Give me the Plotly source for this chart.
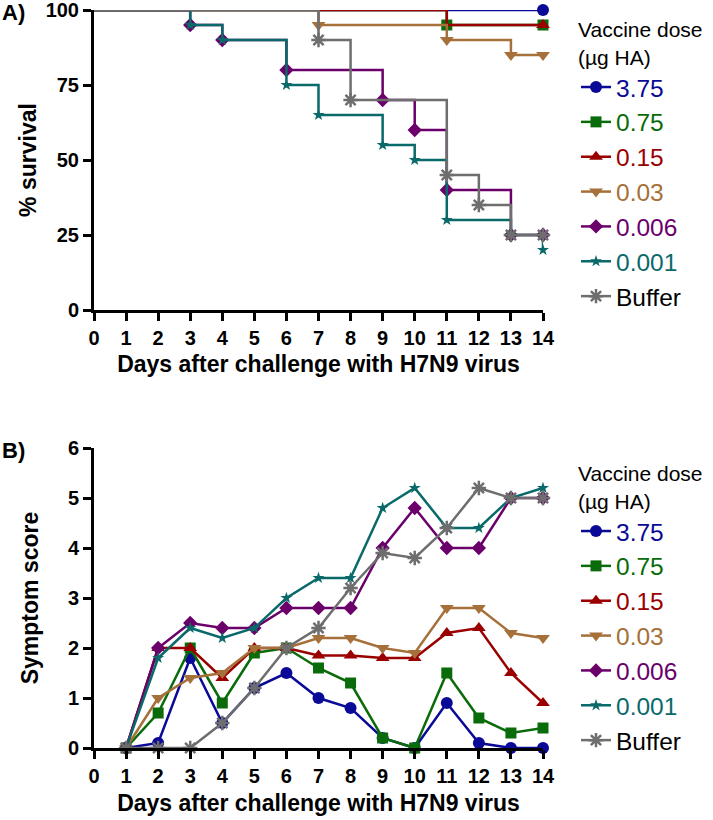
import plotly.graph_objects as go

# ---------------- data ----------------
day_ticks = list(range(0, 15))
names = ["3.75", "0.75", "0.15", "0.03", "0.006", "0.001", "Buffer"]
colors = ["#0A0A96", "#0A6B0A", "#9A0000", "#A57039", "#6B006B", "#0A6A6A", "#6E6E6E"]
symbols = ["circle", "square", "triangle-up", "triangle-down", "diamond", "star", "asterisk-open"]
msizes = [12, 11, 12, 12, 11, 9, 12]

# Panel A: Kaplan-Meier steps (day of change, % survival after change)
surv_days_375 = [0, 14]
surv_375 = [100, 100]
surv_days_075 = [0, 11, 14]
surv_075 = [100, 95, 95]
surv_days_015 = [0, 11, 14]
surv_015 = [100, 95, 95]
surv_days_003 = [0, 7, 11, 13, 14]
surv_003 = [100, 95, 90, 85, 85]
surv_days_0006 = [0, 3, 4, 6, 9, 10, 11, 13, 14]
surv_0006 = [100, 95, 90, 80, 70, 60, 40, 25, 25]
surv_days_0001 = [0, 3, 4, 6, 7, 9, 10, 11, 13, 14]
surv_0001 = [100, 95, 90, 75, 65, 55, 50, 30, 25, 20]
surv_days_buf = [0, 7, 8, 11, 12, 13, 14]
surv_buf = [100, 90, 70, 45, 35, 25, 25]

# days at which a symbol is shown on the survival curves
mark_days_375 = [14]
mark_days_075 = [11, 14]
mark_days_015 = [14]
mark_days_003 = [7, 11, 13, 14]
mark_days_0006 = [3, 4, 6, 9, 10, 11, 13, 14]
mark_days_0001 = [3, 4, 6, 7, 9, 10, 11, 13, 14]
mark_days_buf = [7, 8, 11, 12, 13, 14]

# Panel B: symptom score, days 1..14
score_days = list(range(1, 15))
score_375 = [0, 0.1, 1.8, 0.5, 1.2, 1.5, 1.0, 0.8, 0.2, 0, 0.9, 0.1, 0, 0]
score_075 = [0, 0.7, 2.0, 0.9, 1.9, 2.0, 1.6, 1.3, 0.2, 0, 1.5, 0.6, 0.3, 0.4]
score_015 = [0, 2.0, 2.0, 1.4, 2.0, 2.0, 1.85, 1.85, 1.8, 1.8, 2.3, 2.4, 1.5, 0.9]
score_003 = [0, 1.0, 1.4, 1.5, 2.0, 2.0, 2.2, 2.2, 2.0, 1.9, 2.8, 2.8, 2.3, 2.2]
score_0006 = [0, 2.0, 2.5, 2.4, 2.4, 2.8, 2.8, 2.8, 4.0, 4.8, 4.0, 4.0, 5.0, 5.0]
score_0001 = [0, 1.8, 2.4, 2.2, 2.4, 3.0, 3.4, 3.4, 4.8, 5.2, 4.4, 4.4, 5.0, 5.2]
score_buf = [0, 0, 0, 0.5, 1.2, 2.0, 2.4, 3.2, 3.9, 3.8, 4.4, 5.2, 5.0, 5.0]

surv_days_all = [surv_days_375, surv_days_075, surv_days_015, surv_days_003,
                 surv_days_0006, surv_days_0001, surv_days_buf]
surv_all = [surv_375, surv_075, surv_015, surv_003, surv_0006, surv_0001, surv_buf]
mark_all = [mark_days_375, mark_days_075, mark_days_015, mark_days_003,
            mark_days_0006, mark_days_0001, mark_days_buf]
score_all = [score_375, score_075, score_015, score_003, score_0006, score_0001, score_buf]

FONT = "Liberation Sans, Arial, sans-serif"


def step_value(dlist, vlist, d):
    v = vlist[0]
    for dd, vv in zip(dlist, vlist):
        if dd <= d:
            v = vv
    return v


def marker_style(i):
    if symbols[i] == "asterisk-open":
        return dict(symbol=symbols[i], size=msizes[i], color=colors[i],
                    line=dict(color=colors[i], width=2.5))
    return dict(symbol=symbols[i], size=msizes[i], color=colors[i],
                line=dict(color=colors[i], width=0))


def legend_name(i):
    c = colors[i] if names[i] != "Buffer" else "#000000"
    return "<span style='color:%s'>%s</span>" % (c, names[i])


fig = go.Figure()

# ---- Panel A ----
for i, nm in enumerate(names):
    fig.add_trace(go.Scatter(
        x=surv_days_all[i], y=surv_all[i], mode="lines",
        line=dict(color=colors[i], width=2.5, shape="hv"),
        showlegend=False, hoverinfo="skip", xaxis="x", yaxis="y", cliponaxis=False))
    my = [step_value(surv_days_all[i], surv_all[i], d) for d in mark_all[i]]
    fig.add_trace(go.Scatter(
        x=mark_all[i], y=my, mode="markers", marker=marker_style(i),
        showlegend=False, xaxis="x", yaxis="y", cliponaxis=False))
# legend entries for panel A
for i, nm in enumerate(names):
    fig.add_trace(go.Scatter(
        x=[None], y=[None], mode="lines+markers", name=legend_name(i),
        line=dict(color=colors[i], width=2.5), marker=marker_style(i),
        legend="legend", xaxis="x", yaxis="y"))

# ---- Panel B ----
for i, nm in enumerate(names):
    fig.add_trace(go.Scatter(
        x=score_days, y=score_all[i], mode="lines+markers", name=legend_name(i),
        line=dict(color=colors[i], width=2.5), marker=marker_style(i),
        legend="legend2", xaxis="x2", yaxis="y2", cliponaxis=False))

axis_common = dict(
    showgrid=False, zeroline=False, showline=True, linecolor="black", linewidth=3,
    ticks="outside", ticklen=8, tickwidth=2.5, tickcolor="black", automargin=False,
    ticklabeloverflow="allow",
    tickfont=dict(family=FONT, size=20, color="black", weight="bold"),
)
title_font = dict(family=FONT, size=23, color="black", weight="bold")

top_dom = [(748 - 310) / 738, 1.0]
bot_dom = [0.0, (748 - 448) / 738]

legend_common = dict(
    x=(576 - 94) / 449, xanchor="left", xref="paper", yref="paper", yanchor="top",
    bgcolor="rgba(0,0,0,0)", font=dict(family=FONT, size=24.5, color="black"),
    title=dict(text="Vaccine dose<br>(µg HA)", font=dict(family=FONT, size=21, color="black")),
    tracegroupgap=0, itemwidth=30, traceorder="normal",
)

fig.update_layout(
    width=713, height=820,
    margin=dict(l=94, r=170, t=10, b=72, autoexpand=False),
    paper_bgcolor="white", plot_bgcolor="white",
    font=dict(family=FONT, color="black"),
    xaxis=dict(axis_common, domain=[0, 1], anchor="y", range=[0, 14],
               tickvals=day_ticks, ticktext=[str(d) for d in day_ticks],
               title=dict(text="Days after challenge with H7N9 virus", standoff=8, font=title_font)),
    yaxis=dict(axis_common, domain=top_dom, anchor="x", range=[0, 100],
               tickvals=[0, 25, 50, 75, 100],
               title=dict(text="% survival", standoff=3, font=title_font)),
    xaxis2=dict(axis_common, domain=[0, 1], anchor="y2", range=[0, 14],
                tickvals=day_ticks, ticktext=[str(d) for d in day_ticks],
                title=dict(text="Days after challenge with H7N9 virus", standoff=9, font=title_font)),
    yaxis2=dict(axis_common, domain=bot_dom, anchor="x2", range=[0, 6],
                tickvals=[0, 1, 2, 3, 4, 5, 6],
                title=dict(text="Symptom score", standoff=23, font=title_font)),
    legend=dict(legend_common, y=(748 - 10) / 738),
    legend2=dict(legend_common, y=(748 - 454) / 738),
    annotations=[
        dict(text="<b>A)</b>", x=-94 / 449, y=(748 - 12) / 738, xref="paper", yref="paper",
             xanchor="left", yanchor="middle", showarrow=False,
             font=dict(family=FONT, size=22, color="black")),
        dict(text="<b>B)</b>", x=-94 / 449, y=(748 - 450) / 738, xref="paper", yref="paper",
             xanchor="left", yanchor="middle", showarrow=False,
             font=dict(family=FONT, size=22, color="black")),
    ],
)

fig.write_html("out.html", config={"displayModeBar": False},
               post_script="document.body.style.margin='0px';")
